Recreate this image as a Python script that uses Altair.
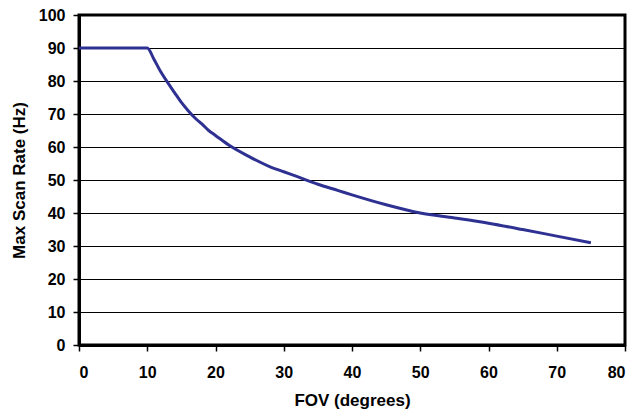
import altair as alt
import pandas as pd

fov = [0, 10, 11, 12, 13, 14, 15, 16, 17, 18, 19, 20, 22, 25, 28, 30, 32, 35, 38, 40, 45, 50, 55, 60, 65, 70, 75]
rate = [90, 90, 86.5, 82.7, 79.5, 76.5, 73.5, 71, 68.8, 67, 65, 63.5, 60.5, 57, 54, 52.5, 51, 48.7, 46.8, 45.5, 42.5, 40, 38.5, 36.9, 35, 33, 31]

df = pd.DataFrame({"fov": fov, "rate": rate})

font = "Liberation Sans"

chart = alt.Chart(df).mark_line(color="#2E3192", strokeWidth=3, interpolate="monotone").encode(
    x=alt.X("fov:Q", scale=alt.Scale(domain=[0, 80], nice=False),
            axis=alt.Axis(title="FOV (degrees)", values=list(range(0, 81, 10)), grid=False,
                          tickSize=6, tickColor="black", tickWidth=1.5,
                          domainColor="black", domainWidth=3,
                          labelFont=font, labelFontSize=16, labelFontWeight="bold", labelColor="black",
                          labelPadding=13,
                          titleFont=font, titleFontSize=17, titleFontWeight="bold", titleColor="black",
                          titlePadding=12)),
    y=alt.Y("rate:Q", scale=alt.Scale(domain=[0, 100], nice=False),
            axis=alt.Axis(title="Max Scan Rate (Hz)", values=list(range(0, 101, 10)), grid=True,
                          gridColor="black", gridWidth=1.2, gridOpacity=1,
                          tickSize=6, tickColor="black", tickWidth=1.5,
                          domainColor="black", domainWidth=3,
                          labelFont=font, labelFontSize=16, labelFontWeight="bold", labelColor="black",
                          labelPadding=8,
                          titleFont=font, titleFontSize=17, titleFontWeight="bold", titleColor="black",
                          titlePadding=10)),
).properties(
    width=546, height=330,
    autosize=alt.AutoSizeParams(type="none"),
    padding={"left": 71, "top": 7, "right": 3, "bottom": 71},
    background="white",
).configure_view(stroke="black", strokeWidth=3)

chart.save("out.html", embed_options={"renderer": "svg", "actions": False})
